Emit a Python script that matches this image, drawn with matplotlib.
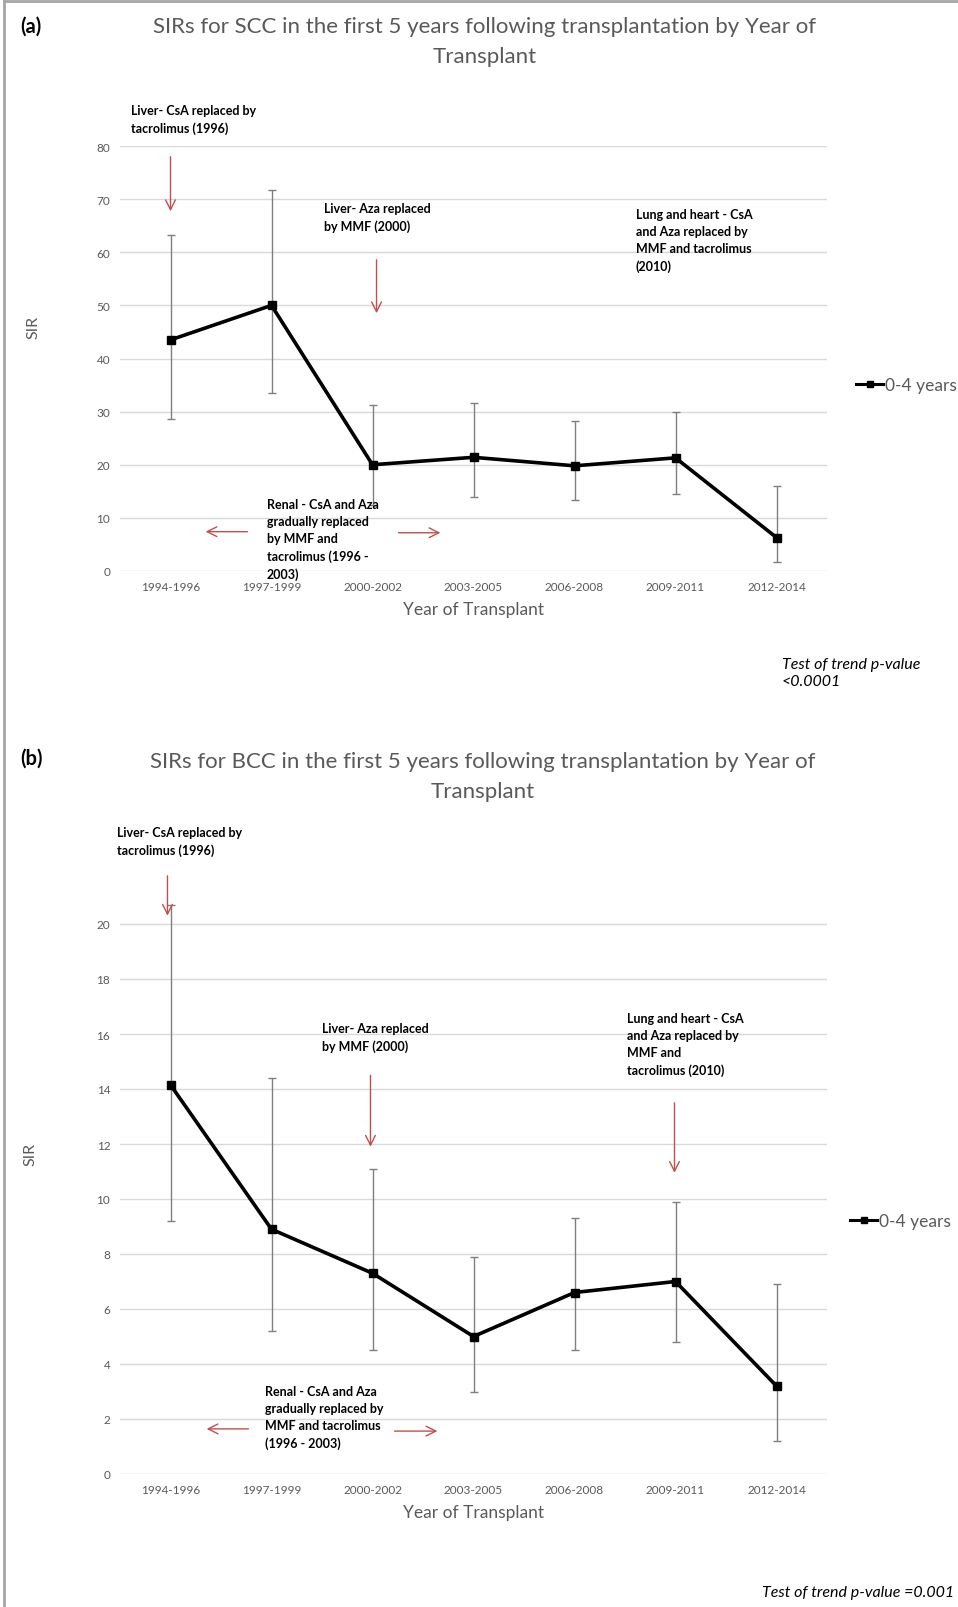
import matplotlib
matplotlib.use("Agg")
import matplotlib.pyplot as plt
from matplotlib.lines import Line2D
import numpy as np

plt.rcParams['font.family'] = ['Lato', 'DejaVu Sans']

periods = ['1994-1996', '1997-1999', '2000-2002', '2003-2005', '2006-2008', '2009-2011', '2012-2014']

# SCC (panel a)
scc_sir = [43.5, 50.0, 20.0, 21.4, 19.8, 21.3, 6.3]
scc_low = [28.7, 33.5, 12.5, 13.9, 13.3, 14.5, 1.7]
scc_high = [63.3, 71.8, 31.2, 31.7, 28.3, 30.0, 16.0]

# BCC (panel b)
bcc_sir = [14.15, 8.9, 7.3, 5.0, 6.6, 7.0, 3.2]
bcc_low = [9.2, 5.2, 4.5, 3.0, 4.5, 4.8, 1.2]
bcc_high = [20.7, 14.4, 11.1, 7.9, 9.3, 9.9, 6.9]

GRAY_TXT = '#595959'
GRID = '#d9d9d9'
RED = '#c0504d'

fig = plt.figure(figsize=(9.58, 16.08), dpi=100)
W, H = 958, 1608


def fx(px):
    return px / W


def fy(py):
    return 1 - py / H


def draw_panel(ax, sir, low, high, ylim, yticks):
    x = np.arange(len(periods))
    sir = np.array(sir)
    yerr = [sir - np.array(low), np.array(high) - sir]
    ax.errorbar(x, sir, yerr=yerr, fmt='none', ecolor='#7f7f7f', elinewidth=1.0,
                capsize=3, capthick=1.0, zorder=2)
    ax.plot(x, sir, color='black', lw=2.6, marker='s', ms=5.5, zorder=3)
    ax.set_xlim(-0.5, len(periods) - 0.5)
    ax.set_ylim(*ylim)
    ax.set_yticks(yticks)
    ax.set_xticks(x)
    ax.set_xticklabels(periods)
    ax.grid(axis='y', color=GRID, lw=1.0)
    ax.set_axisbelow(True)
    for s in ax.spines.values():
        s.set_visible(False)
    ax.tick_params(length=0, labelsize=8.5, colors=GRAY_TXT, pad=7)
    ax.set_xlabel('Year of Transplant', fontsize=12.5, color=GRAY_TXT, labelpad=7)


def arrow(ax, start, end):
    ax.annotate('', xy=end, xytext=start, annotation_clip=False,
                arrowprops=dict(arrowstyle='->,head_width=0.35,head_length=0.7',
                                color=RED, lw=1.0))


def note(ax, xy, txt):
    ax.text(xy[0], xy[1], txt, fontsize=9, fontweight='bold', va='top', ha='left',
            transform=fig.transFigure, linespacing=1.5)


def legend(ax, xpx, ypx):
    ax.legend(handles=[Line2D([], [], color='black', lw=2.2, marker='s', ms=4)], labels=['0-4 years'],
              loc='center left', bbox_to_anchor=(fx(xpx), fy(ypx)), bbox_transform=fig.transFigure,
              frameon=False, fontsize=12.5, labelcolor=GRAY_TXT, handlelength=1.6, handletextpad=0.1)


# ---------------- panel (a)
ax1 = fig.add_axes([fx(120), fy(572), fx(827) - fx(120), fy(147) - fy(572)])
draw_panel(ax1, scc_sir, scc_low, scc_high, (0, 80), np.arange(0, 81, 10))
fig.text(fx(20), fy(27), '(a)', fontsize=14.5, fontweight='bold', va='center')
fig.text(fx(485), fy(42), 'SIRs for SCC in the first 5 years following transplantation by Year of\nTransplant',
         fontsize=16, color=GRAY_TXT, ha='center', va='center', linespacing=1.65)
fig.text(fx(33), fy(327), 'SIR', rotation=90, fontsize=11.5, color=GRAY_TXT, va='center', ha='center')

note(ax1, (fx(131), fy(105)), 'Liver- CsA replaced by\ntacrolimus (1996)')
arrow(ax1, (0, 78.5), (0, 67.2))
note(ax1, (fx(324), fy(203)), 'Liver- Aza replaced\nby MMF (2000)')
arrow(ax1, (2.04, 59.1), (2.04, 48.0))
note(ax1, (fx(636), fy(209)), 'Lung and heart - CsA\nand Aza replaced by\nMMF and tacrolimus\n(2010)')
note(ax1, (fx(267), fy(499)), 'Renal - CsA and Aza\ngradually replaced\nby MMF and\ntacrolimus (1996 -\n2003)')
arrow(ax1, (0.79, 7.4), (0.32, 7.4))
arrow(ax1, (2.23, 7.2), (2.70, 7.2))
legend(ax1, 840, 386)

fig.text(fx(782), fy(658), 'Test of trend p-value\n<0.0001', fontsize=11.5, style='italic',
         va='top', ha='left', linespacing=1.3)

# ---------------- panel (b)
ax2 = fig.add_axes([fx(120), fy(1475), fx(827) - fx(120), fy(897.5) - fy(1475)])
draw_panel(ax2, bcc_sir, bcc_low, bcc_high, (0, 21), np.arange(0, 21, 2))
fig.text(fx(20), fy(759), '(b)', fontsize=14.5, fontweight='bold', va='center')
fig.text(fx(483), fy(777), 'SIRs for BCC in the first 5 years following transplantation by Year of\nTransplant',
         fontsize=16, color=GRAY_TXT, ha='center', va='center', linespacing=1.65)
fig.text(fx(30), fy(1154), 'SIR', rotation=90, fontsize=11.5, color=GRAY_TXT, va='center', ha='center')

note(ax2, (fx(117), fy(827)), 'Liver- CsA replaced by\ntacrolimus (1996)')
arrow(ax2, (-0.03, 21.85), (-0.03, 20.2))
note(ax2, (fx(322), fy(1023)), 'Liver- Aza replaced\nby MMF (2000)')
arrow(ax2, (1.98, 14.6), (1.98, 11.8))
note(ax2, (fx(627), fy(1013)), 'Lung and heart - CsA\nand Aza replaced by\nMMF and\ntacrolimus (2010)')
arrow(ax2, (4.99, 13.6), (4.99, 10.85))
note(ax2, (fx(265), fy(1386)), 'Renal - CsA and Aza\ngradually replaced by\nMMF and tacrolimus\n(1996 - 2003)')
arrow(ax2, (0.8, 1.64), (0.33, 1.64))
arrow(ax2, (2.19, 1.56), (2.67, 1.56))
legend(ax2, 834, 1222)

fig.text(fx(762), fy(1593), 'Test of trend p-value =0.001', fontsize=11.5, style='italic',
         va='center', ha='left')

# outer frame (left and top edges)
fig.add_artist(Line2D([fx(4), fx(4)], [0, fy(2)], color='#a6a6a6', lw=2, transform=fig.transFigure))
fig.add_artist(Line2D([fx(4), 1], [fy(2), fy(2)], color='#a6a6a6', lw=2, transform=fig.transFigure))

fig.savefig('out.png', dpi=100)
